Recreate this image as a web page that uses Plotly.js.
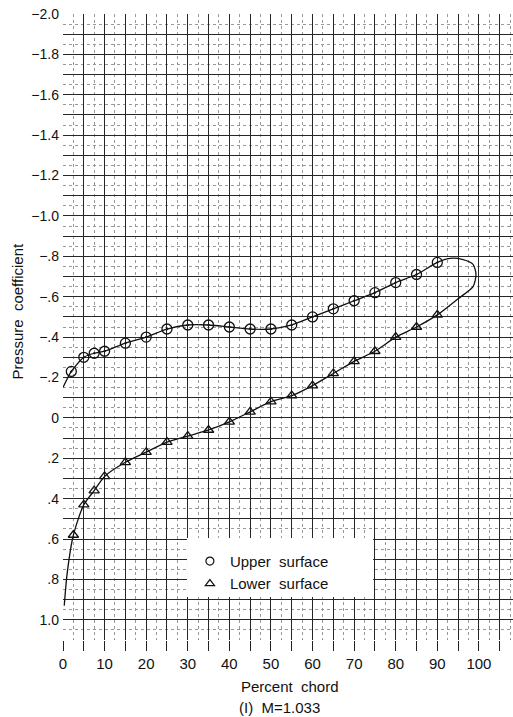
<!DOCTYPE html>
<html>
<head>
<meta charset="utf-8">
<script src="https://cdn.plot.ly/plotly-3.0.1.min.js"></script>
<style>html,body{margin:0;padding:0;background:#fff;}#chart{width:513px;height:717px;}</style>
</head>
<body>
<div id="chart"></div>
<script>
// ---- data ----
const upperX  = [2, 5, 7.5, 10, 15, 20, 25, 30, 35, 40, 45, 50, 55, 60, 65, 70, 75, 80, 85, 90];
const upperCp = [-0.23, -0.30, -0.32, -0.33, -0.37, -0.40, -0.44, -0.46, -0.46, -0.45, -0.44, -0.44, -0.46, -0.50, -0.54, -0.58, -0.62, -0.67, -0.71, -0.77];
const lowerX  = [2.5, 5, 7.5, 10, 15, 20, 25, 30, 35, 40, 45, 50, 55, 60, 65, 70, 75, 80, 85, 90];
const lowerCp = [0.58, 0.43, 0.36, 0.29, 0.22, 0.17, 0.12, 0.09, 0.06, 0.02, -0.03, -0.08, -0.11, -0.16, -0.22, -0.28, -0.33, -0.40, -0.45, -0.51];
// faired curve ends (leading edge, trailing-edge closure)
const leUpperX = [0];     const leUpperCp = [-0.15];
const teX  = [93, 96, 98.6, 99.3, 98.6, 95];
const teCp = [-0.79, -0.785, -0.76, -0.71, -0.65, -0.59];
const leLowerX = [1.0, 0.3];  const leLowerCp = [0.77, 0.93];

const xTickVals = [0,5,10,15,20,25,30,35,40,45,50,55,60,65,70,75,80,85,90,95,100,105];
const xTickText = ['0','','10','','20','','30','','40','','50','','60','','70','','80','','90','','100',''];
const xMinorVals = [2.5,7.5,12.5,17.5,22.5,27.5,32.5,37.5,42.5,47.5,52.5,57.5,62.5,67.5,72.5,77.5,82.5,87.5,92.5,97.5,102.5,107.5];
const yTickVals = [-2.0,-1.9,-1.8,-1.7,-1.6,-1.5,-1.4,-1.3,-1.2,-1.1,-1.0,-0.9,-0.8,-0.7,-0.6,-0.5,-0.4,-0.3,-0.2,-0.1,0,0.1,0.2,0.3,0.4,0.5,0.6,0.7,0.8,0.9,1.0,1.1];
const yTickText = ['\u22122.0','','\u22121.8','','\u22121.6','','\u22121.4','','\u22121.2','','\u22121.0','','\u2212.8','','\u2212.6','','\u2212.4','','\u2212.2','','0','','.2','','.4','','.6','','.8','','1.0',''];
const yMinorVals = [-1.95,-1.85,-1.75,-1.65,-1.55,-1.45,-1.35,-1.25,-1.15,-1.05,-0.95,-0.85,-0.75,-0.65,-0.55,-0.45,-0.35,-0.25,-0.15,-0.05,0.05,0.15,0.25,0.35,0.45,0.55,0.65,0.75,0.85,0.95,1.05];

const seriesNames = ['Upper  surface', 'Lower  surface'];

// ---- build faired curve ----
const curveX = leUpperX.concat(upperX, teX, lowerX.slice().reverse(), leLowerX);
const curveY = leUpperCp.concat(upperCp, teCp, lowerCp.slice().reverse(), leLowerCp);

const FONT = 'Liberation Sans, Arial, sans-serif';
const XR = [0, 108.2], YR = [1.1, -2.0];
const traces = [
  {x: curveX, y: curveY, mode: 'lines', line: {color: '#111', width: 1.3, shape: 'spline', smoothing: 0.7}, showlegend: false, hoverinfo: 'skip'},
  {x: upperX, y: upperCp, mode: 'markers', name: seriesNames[0], showlegend: false,
   marker: {symbol: 'circle-open-dot', size: 10, color: '#111', line: {width: 1.3, color: '#111'}}},
  {x: lowerX, y: lowerCp, mode: 'markers', name: seriesNames[1], showlegend: false,
   marker: {symbol: 'triangle-up-open', size: 9, color: '#111', line: {width: 1.3, color: '#111'}}},
  {x: [null], y: [null], mode: 'markers', name: seriesNames[0], showlegend: true,
   marker: {symbol: 'circle-open', size: 8, color: '#111', line: {width: 1.2}}},
  {x: [null], y: [null], mode: 'markers', name: seriesNames[1], showlegend: true,
   marker: {symbol: 'triangle-up-open', size: 8, color: '#111', line: {width: 1.2}}}
];

const layout = {
  width: 513, height: 717,
  margin: {l: 63, r: 0, t: 14, b: 77},
  paper_bgcolor: '#fff', plot_bgcolor: '#fff',
  font: {family: FONT, color: '#111'},
  xaxis: {
    range: XR, tickmode: 'array', tickvals: xTickVals, ticktext: xTickText,
    ticks: 'outside', ticklen: 10, tickwidth: 1, tickcolor: '#222',
    ticklabelstandoff: 0,
    showgrid: true, gridcolor: '#262626', gridwidth: 1, griddash: 'solid',
    minor: {tickmode: 'array', tickvals: xMinorVals, showgrid: true, gridcolor: '#999', gridwidth: 1, griddash: 'dot', ticks: ''},
    zeroline: false, showline: false,
    tickfont: {size: 15, family: FONT}
  },
  yaxis: {
    range: YR, tickmode: 'array', tickvals: yTickVals, ticktext: yTickText,
    ticks: '', ticklabelstandoff: 3,
    showgrid: true, gridcolor: '#262626', gridwidth: 1, griddash: 'solid',
    minor: {tickmode: 'array', tickvals: yMinorVals, showgrid: true, gridcolor: '#999', gridwidth: 1, griddash: 'dot', ticks: ''},
    zeroline: false, showline: false,
    tickfont: {size: 14, family: FONT}
  },
  showlegend: true,
  legend: {x: 0.282, y: 0.152, xanchor: 'left', yanchor: 'top', bgcolor: 'rgba(0,0,0,0)', borderwidth: 0,
           font: {size: 15, family: FONT, color: '#111'}, itemwidth: 30, tracegroupgap: 0},
  shapes: [
    {type: 'rect', xref: 'paper', yref: 'paper', x0: 0.2756, x1: 0.689, y0: 0.0687, y1: 0.163,
     fillcolor: '#fff', line: {width: 0}, layer: 'above'}
  ],
  annotations: [
    {text: 'Pressure  coefficient', xref: 'paper', yref: 'paper', x: -0.102, y: 0.525,
     textangle: -90, showarrow: false, font: {size: 15, family: FONT}, xanchor: 'center', yanchor: 'middle'},
    {text: 'Percent  chord', xref: 'paper', yref: 'paper', x: 0.505, y: -0.0735,
     showarrow: false, font: {size: 15, family: FONT}, xanchor: 'center', yanchor: 'middle'},
    {text: '(I)  M=1.033', xref: 'paper', yref: 'paper', x: 0.482, y: -0.108,
     showarrow: false, font: {size: 15, family: FONT}, xanchor: 'center', yanchor: 'middle'}
  ]
};

Plotly.newPlot('chart', traces, layout, {displayModeBar: false, staticPlot: true});
</script>
</body>
</html>
